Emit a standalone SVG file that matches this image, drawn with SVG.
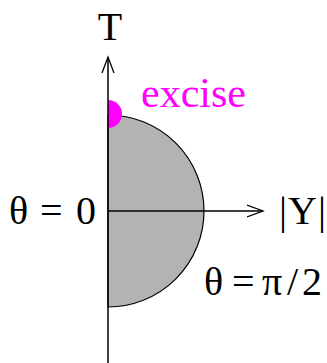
<svg xmlns="http://www.w3.org/2000/svg" width="327" height="363" viewBox="0 0 327 363">
<style>
.lbl{font-family:"Liberation Serif","Times New Roman",serif;font-size:40px;fill:#000}
.ax{stroke:#000;stroke-width:1.5;fill:none}
</style>
<defs>
<marker id="arr" markerWidth="20" markerHeight="20" refX="16" refY="6" orient="auto" markerUnits="userSpaceOnUse" viewBox="0 0 20 12">
<path d="M0,0 L16,6 L0,12" fill="none" stroke="#000" stroke-width="1.3"/>
</marker>
</defs>
<rect width="327" height="363" fill="#fff"/>
<g id="region">
<path d="M108,115 A96,96 0 0 1 108,307 Z" fill="#b3b3b3" stroke="#000" stroke-width="1.2"/>
</g>
<g id="excise-cap">
<path d="M108,100 A14,14 0 0 1 108,128 Z" fill="#ff00ff"/>
</g>
<g id="connectors">
<line class="ax" x1="108" y1="363" x2="108" y2="57" marker-end="url(#arr)"/>
<line class="ax" x1="108" y1="211" x2="263" y2="211" marker-end="url(#arr)"/>
</g>
<g id="labels">
<text class="lbl" x="110" y="40" text-anchor="middle">T</text>
<text class="lbl" x="141" y="107" style="fill:#ff00ff;font-size:42px">excise</text>
<text class="lbl" y="224"><tspan x="9">θ</tspan><tspan x="40">=</tspan><tspan x="76">0</tspan></text>
<text class="lbl" y="224"><tspan x="279">|</tspan><tspan x="288">Y</tspan><tspan x="318">|</tspan></text>
<text class="lbl" y="295"><tspan x="204">θ</tspan><tspan x="232">=</tspan><tspan x="262">π</tspan><tspan x="287">/</tspan><tspan x="302">2</tspan></text>
</g>
</svg>
